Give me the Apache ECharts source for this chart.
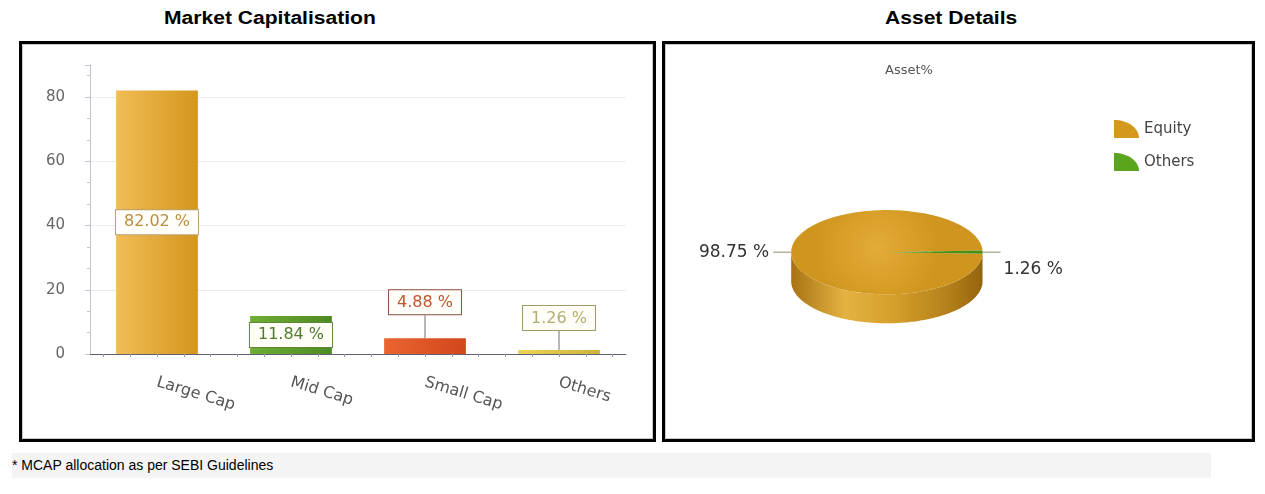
<!DOCTYPE html>
<html>
<head>
<meta charset="utf-8">
<script src="https://cdn.jsdelivr.net/npm/echarts@6/dist/echarts.min.js"></script>
<style>
  body { margin: 0; width: 1265px; height: 494px; background: #fff; position: relative; overflow: hidden; font-family: "Liberation Sans", Arial, sans-serif; }
  .head { position: absolute; top: 8px; font-weight: bold; font-size: 18px; color: #000; white-space: nowrap; transform: scaleX(1.17); transform-origin: 0 0; }
  .box { position: absolute; top: 41px; height: 395px; border: 3px solid #000; box-shadow: inset 0 0 0 1px #c8c8c8; }
  .chart { position: absolute; top: 44px; height: 395px; }
  .note { position: absolute; left: 12px; top: 453px; width: 1199px; height: 25px; background: #f4f4f4; font-size: 14px; line-height: 25px; color: #000; }
</style>
</head>
<body>
<div class="head" style="left:164px">Market Capitalisation</div>
<div class="head" style="left:885px">Asset Details</div>
<div class="box" style="left:19px;width:631px"></div>
<div class="box" style="left:662px;width:587px"></div>
<div id="mcap" class="chart" style="left:22px;width:631px"></div>
<div id="asset" class="chart" style="left:665px;width:587px"></div>
<div class="note">* MCAP allocation as per SEBI Guidelines</div>
<script>
// market capitalisation
var categories = ['Large Cap', 'Mid Cap', 'Small Cap', 'Others'];
var mcapValues = [82.02, 11.84, 4.88, 1.26];
var yTickLabels = [0, 20, 40, 60, 80];

// asset details
var assetNames = ['Equity', 'Others'];
var assetValues = [98.75, 1.26];

// colours per bar: [gradient left, gradient right, label text, label border]
var barColors = [
    ['#F0BD56', '#D4961E', '#B98E45', '#B9A070'],
    ['#6FAE36', '#4E8A22', '#4F7A2C', '#5C8A34'],
    ['#EA6530', '#D2461C', '#C0542C', '#8A4A3C'],
    ['#EBD455', '#CDB238', '#B3AC72', '#A29A62']
];
var liftLabel = [0, 0, 24, 20];

var mcap = echarts.init(document.getElementById('mcap'));
var barData = [];
for (var i = 0; i < mcapValues.length; i++) {
    var c = barColors[i];
    barData.push({
        value: mcapValues[i],
        itemStyle: {
            color: new echarts.graphic.LinearGradient(0, 0, 1, 0, [
                {offset: 0, color: c[0]}, {offset: 1, color: c[1]}
            ])
        },
        label: {
            position: liftLabel[i] ? 'top' : 'inside',
            color: c[2],
            borderColor: c[3]
        }
    });
}
var maxY = 90;
var option = {
    animation: false,
    grid: [
        {left: 68, right: 27, top: 21, bottom: 85},
        // shifted grid just for the small ticks along the category axis
        {left: 81.4, right: 40.4, top: 21, bottom: 85}
    ],
    xAxis: [{
        type: 'category',
        data: categories,
        axisLine: {lineStyle: {color: '#5c6070', width: 1}},
        axisTick: {alignWithLabel: true, length: 6, lineStyle: {color: '#7a7f90'}},
        axisLabel: {rotate: -17, margin: 28, color: '#555', fontSize: 16, fontFamily: 'DejaVu Sans'}
    }, {
        type: 'value', gridIndex: 1, min: 0, max: 19, interval: 1,
        axisLine: {show: false},
        axisTick: {length: 3, lineStyle: {color: '#9a9fb0'}},
        axisLabel: {show: false},
        splitLine: {show: false}
    }],
    yAxis: [{
        type: 'value', min: 0, max: maxY, interval: 20,
        axisLine: {show: true, lineStyle: {color: '#c4c4d8'}},
        axisTick: {show: true, length: 5, lineStyle: {color: '#c4c4d8'}},
        minorTick: {show: true, splitNumber: 3, length: 3, lineStyle: {color: '#c4c4d8'}},
        axisLabel: {
            margin: 25, color: '#666', fontSize: 15, fontFamily: 'DejaVu Sans',
            formatter: function (v) { return yTickLabels.indexOf(v) >= 0 ? String(v) : ''; }
        },
        splitLine: {lineStyle: {color: ['#ebebeb', '#ebebeb', '#ebebeb', '#ebebeb', '#ebebeb', 'rgba(0,0,0,0)']}}
    }, {
        type: 'value', gridIndex: 1, show: false
    }],
    series: [{
        type: 'bar',
        barWidth: '61%',
        data: barData,
        label: {
            show: true,
            formatter: function (p) { return p.value.toFixed(2) + ' %'; },
            fontSize: 16,
            fontFamily: 'DejaVu Sans',
            backgroundColor: '#fffef8',
            borderWidth: 1,
            padding: [5, 8, 3, 8],
            distance: 0
        },
        labelLayout: function (p) {
            return liftLabel[p.dataIndex] ? {dy: -liftLabel[p.dataIndex]} : {};
        },
        labelLine: {show: true, length2: 0, lineStyle: {color: '#707070', width: 1}}
    }]
};
mcap.setOption(option);

// asset pie, drawn as a flat cylinder
var asset = echarts.init(document.getElementById('asset'));
var total = 0;
for (var i = 0; i < assetValues.length; i++) total += assetValues[i];
var startAng = assetValues[assetValues.length - 1] / total * Math.PI; // keep last slice centred on the right
var angles = [];
var acc = startAng;
for (var i = 0; i < assetValues.length; i++) {
    var sweep = assetValues[i] / total * Math.PI * 2;
    angles.push([acc, acc + sweep]);
    acc += sweep;
}
var topColors = [['#E3AC37', '#CF951E'], ['#5FAA22', '#4A8E16']];
var sideColors = [
    ['#A87212', '#E4B242', '#D49E2A', '#B07C18', '#94640E'],
    ['#3E7A10', '#5EA022', '#4C8A18', '#3E7A10', '#336A0C']
];
var legendColors = ['#D4981F', '#5BA51C'];

function makeRender(idx) {
    return function (params, api) {
        var w = api.getWidth(), h = api.getHeight();
        var cx = w * 0.378, cy = h * 0.527;
        var rx = w * 0.163, ry = rx * 0.44, depth = 29;
        var a0 = angles[idx][0], a1 = angles[idx][1];
        var pt = function (a, dy) { return [cx + rx * Math.cos(a), cy + ry * Math.sin(a) + (dy || 0)]; };
        var children = [];
        // visible front wall
        var wins = [[0, Math.PI], [Math.PI * 2, Math.PI * 3]];
        for (var k = 0; k < wins.length; k++) {
            var s = Math.max(a0, wins[k][0]), e = Math.min(a1, wins[k][1]);
            if (e <= s) continue;
            var n = Math.max(2, Math.ceil((e - s) / 0.02));
            var pts = [];
            for (var j = 0; j <= n; j++) pts.push(pt(s + (e - s) * j / n));
            for (var j = n; j >= 0; j--) pts.push(pt(s + (e - s) * j / n, depth));
            var sc = sideColors[idx];
            children.push({
                type: 'polygon',
                shape: {points: pts},
                style: {fill: new echarts.graphic.LinearGradient(0, 0, 1, 0, [
                    {offset: 0, color: sc[0]}, {offset: 0.28, color: sc[1]},
                    {offset: 0.55, color: sc[2]}, {offset: 0.85, color: sc[3]}, {offset: 1, color: sc[4]}
                ])}
            });
        }
        // top face
        var n2 = Math.max(2, Math.ceil((a1 - a0) / 0.02));
        var tp = [[cx, cy]];
        for (var j = 0; j <= n2; j++) tp.push(pt(a0 + (a1 - a0) * j / n2));
        children.push({
            type: 'polygon',
            shape: {points: tp},
            style: {fill: new echarts.graphic.RadialGradient(0.45, 0.45, 0.75, [
                {offset: 0, color: topColors[idx][0]}, {offset: 1, color: topColors[idx][1]}
            ])}
        });
        // label and guide line
        var mid = (a0 + a1) / 2;
        var p = pt(mid);
        var left = Math.cos(mid) < 0;
        var txt = api.value(0).toFixed(2) + ' %';
        children.push({
            type: 'polyline',
            shape: {points: [p, [p[0] + (left ? -18 : 18), p[1]]]},
            style: {stroke: '#8c8c6c', lineWidth: 1},
            z2: 10
        });
        children.push({
            type: 'text',
            style: {
                text: txt,
                x: p[0] + (left ? -22 : 21),
                y: p[1] + (left ? 0 : 17),
                align: left ? 'right' : 'left',
                verticalAlign: 'middle',
                fill: '#333',
                fontSize: 17,
                fontFamily: 'DejaVu Sans'
            },
            z2: 10
        });
        return {type: 'group', children: children};
    };
}

var pieSeries = [];
for (var i = 0; i < assetNames.length; i++) {
    pieSeries.push({
        type: 'custom',
        name: assetNames[i],
        coordinateSystem: 'none',
        itemStyle: {color: legendColors[i]},
        data: [[assetValues[i]]],
        renderItem: makeRender(i)
    });
}

asset.setOption({
    animation: false,
    title: {
        text: 'Asset%', left: 215, top: 15,
        textStyle: {fontSize: 13, fontWeight: 'normal', color: '#555', fontFamily: 'DejaVu Sans'}
    },
    legend: {
        orient: 'vertical', left: 444, top: 71,
        data: assetNames,
        itemWidth: 25, itemHeight: 18, itemGap: 15,
        icon: 'path://M0,18 L0,0 C14,0 25,8 25,18 Z',
        textStyle: {fontSize: 15, color: '#444', fontFamily: 'DejaVu Sans'}
    },
    series: pieSeries
});
</script>
</body>
</html>
